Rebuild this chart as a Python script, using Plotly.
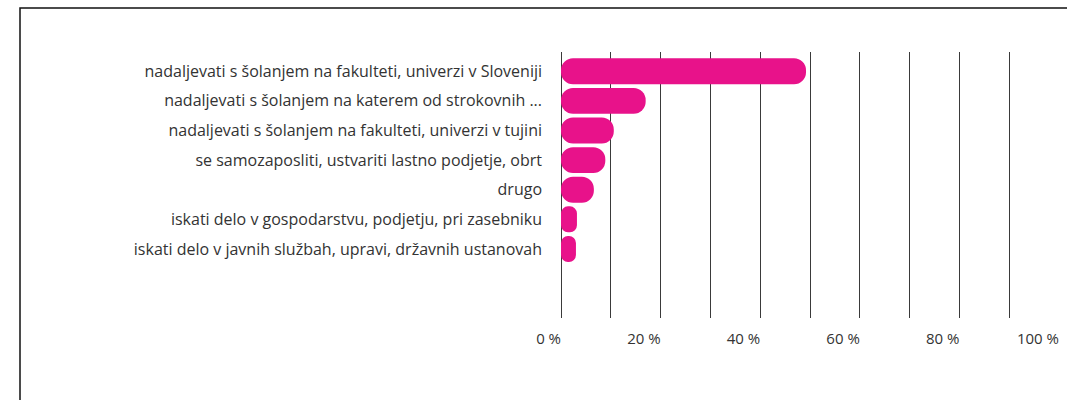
import plotly.graph_objects as go

categories = [
    "nadaljevati s šolanjem na fakulteti, univerzi v Sloveniji",
    "nadaljevati s šolanjem na katerem od strokovnih ...",
    "nadaljevati s šolanjem na fakulteti, univerzi v tujini",
    "se samozaposliti, ustvariti lastno podjetje, obrt",
    "drugo",
    "iskati delo v gospodarstvu, podjetju, pri zasebniku",
    "iskati delo v javnih službah, upravi, državnih ustanovah",
]
values = [49.2, 17.0, 10.6, 8.9, 6.6, 3.2, 3.0]
tick_vals = [0, 10, 20, 30, 40, 50, 60, 70, 80, 90, 100]
tick_text = ["0 %", "", "20 %", "", "40 %", "", "60 %", "", "80 %", "", "100 %"]

PINK = "#E8128A"
TXT = "#333333"
GRID = "#3a3a3a"

fig = go.Figure()
fig.add_trace(go.Bar(
    y=categories, x=values, base=[0] * len(values), orientation="h",
    marker=dict(color=PINK, line=dict(width=0), cornerradius=13),
    hoverinfo="skip", showlegend=False,
))

W, H = 1067, 400
ml, mr, mt, mb = 561, 8, 52, 82
pw, ph = W - ml - mr, H - mt - mb

def px_x(px):
    return (px - ml) / pw

def px_y(py):
    return (H - mb - py) / ph

fx, fy = px_x(20), px_y(8)
fig.add_shape(type="path", xref="paper", yref="paper",
              path=f"M {fx} {px_y(420)} L {fx} {fy} L {px_x(1100)} {fy}",
              line=dict(color="#111111", width=1.5), layer="above")

fig.update_layout(
    width=W, height=H,
    margin=dict(l=ml, r=mr, t=mt, b=mb, pad=0),
    paper_bgcolor="white", plot_bgcolor="white",
    bargap=0.123,
    font=dict(family="Open Sans", size=14, color=TXT),
    xaxis=dict(
        range=[0, 100], tickvals=tick_vals, ticktext=tick_text,
        showgrid=True, gridcolor=GRID, gridwidth=1,
        zeroline=True, zerolinecolor=GRID, zerolinewidth=1,
        showline=False, ticks="", ticklabelposition="outside left",
        ticklabelstandoff=10, fixedrange=True,
        tickfont=dict(family="Open Sans", size=15, color=TXT),
    ),
    yaxis=dict(
        type="category", categoryorder="array", categoryarray=categories,
        range=[8.33, -0.65], showgrid=False, zeroline=False, showline=False,
        ticks="", ticklabelstandoff=18, fixedrange=True,
        tickfont=dict(family="Open Sans", size=16, color=TXT),
    ),
)

fig.write_html("out.html", config={"displayModeBar": False},
               post_script="document.body.style.margin='0';")
